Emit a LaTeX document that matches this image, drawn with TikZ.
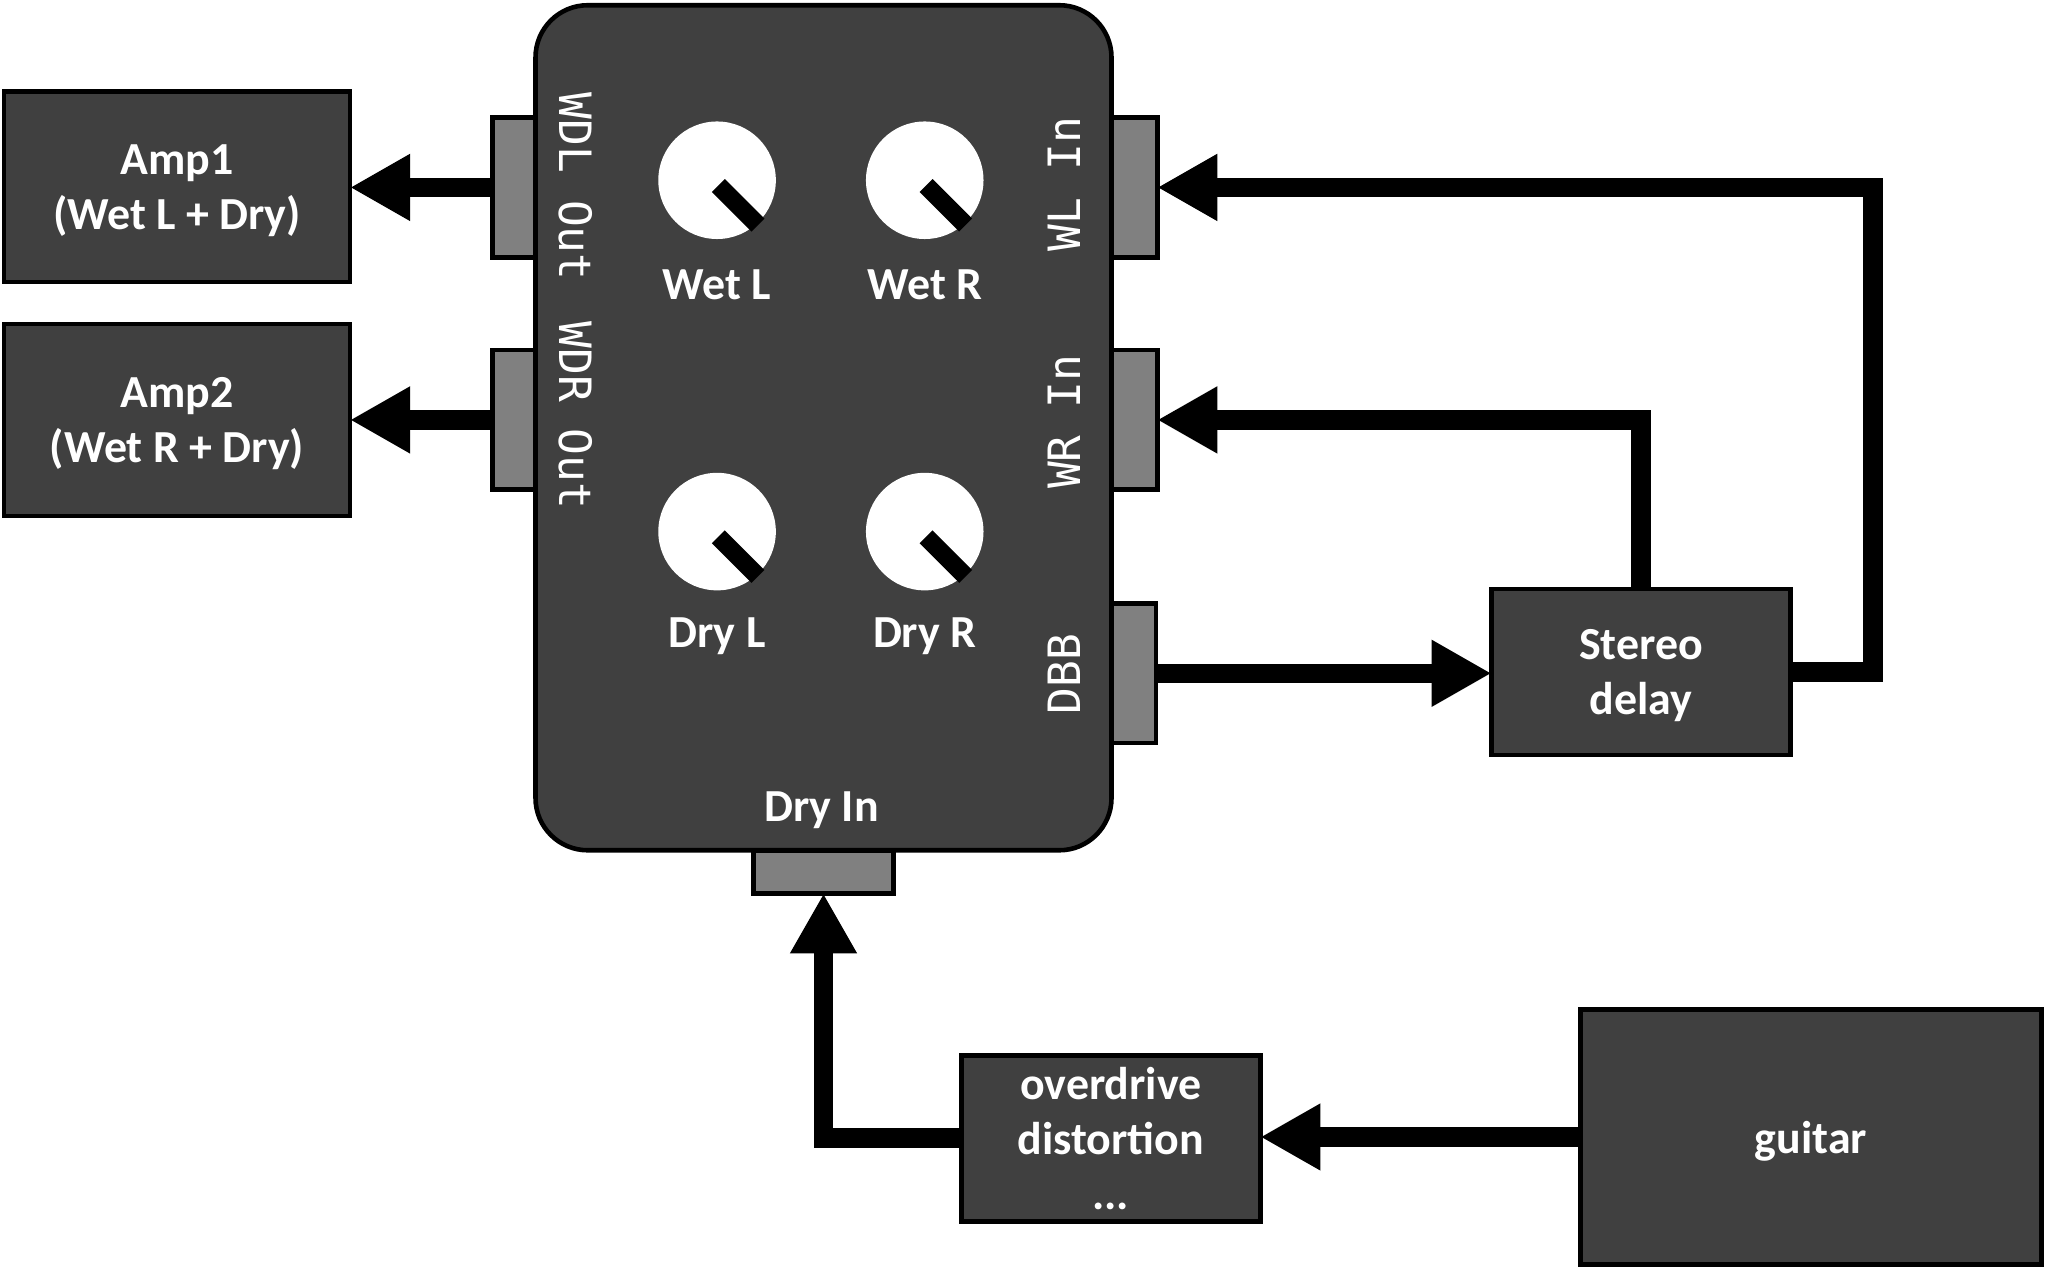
\documentclass[tikz,border=0pt]{standalone}
\usepackage{fontspec}
\setmainfont{Carlito}
\newfontfamily\jackfont{DejaVu Sans Mono}
\usepackage{xcolor}
\usetikzlibrary{arrows.meta}
\definecolor{boxgray}{HTML}{404040}
\definecolor{jackgray}{HTML}{808080}

\begin{document}
\begin{tikzpicture}[x=0.1mm,y=-0.1mm,
  box/.style={draw=black,line width=1pt,fill=boxgray,text=white,font=\bfseries,align=center,text depth=0pt,inner sep=0pt,outer sep=0pt},
  jack/.style={draw=black,line width=1pt,fill=jackgray,inner sep=0pt,outer sep=0pt},
  knob/.style={circle,fill=white,minimum size=9mm,inner sep=0pt},
  knobptr/.style={line width=1.4mm},
  knoblabel/.style={text=white,font=\bfseries,yshift=-0.3mm},
  jacklabel/.style={text=white,font=\jackfont\fontsize{9.7}{11}\selectfont},
  wire/.style={line width=1.5mm,-{Triangle[length=4.6mm,width=4.8mm]}}]
\useasboundingbox (0,0) rectangle (1568,972);

% pedal body and jacks
\node [box,rounded corners=4mm,minimum width=44.1mm,minimum height=64.7mm] (pedal) at (630.5,327.5) {};
\node [jack,minimum width=3.3mm,minimum height=10.7mm] (wdl) at (393.5,143.5) {};
\node [jack,minimum width=3.3mm,minimum height=10.7mm] (wdr) at (393.5,321.5) {};
\node [jack,minimum width=3.5mm,minimum height=10.7mm] (wl) at (868.5,143.5) {};
\node [jack,minimum width=3.5mm,minimum height=10.7mm] (wr) at (868.5,321.5) {};
\node [jack,minimum width=3.4mm,minimum height=10.7mm] (dbb) at (868,515.5) {};
\node [jack,minimum width=10.7mm,minimum height=3.3mm] (dryin) at (630.5,667.5) {};

\node [jacklabel,rotate=-90] (wdl-lbl) at (441,143) {WDL Out};
\node [jacklabel,rotate=-90] (wdr-lbl) at (441,318) {WDR Out};
\node [jacklabel,rotate=90] (wl-lbl) at (815,141) {WL In};
\node [jacklabel,rotate=90] (wr-lbl) at (815,323) {WR In};
\node [jacklabel,rotate=90] (dbb-lbl) at (815,516) {DBB};
\node [knoblabel] (dryin-lbl) at (629,617) {Dry In};

% knobs
\foreach \n/\x/\y/\t in {wetl/549/138/Wet L,wetr/708/138/Wet R,dryl/549/407/Dry L,dryr/708/407/Dry R}{
  \node [knob] (\n) at (\x,\y) {};
  \draw [knobptr] ([shift={(1,4)}]\n.center) -- ([shift={(-1,2)}]\n.-45);
  \node [knoblabel] (\n-lbl) at (\x,\y+77) {\t};
}

% other boxes
\node [box,minimum width=26.5mm,minimum height=14.6mm] (amp1) at (135.5,143) {Amp1\\(Wet L + Dry)};
\node [box,minimum width=26.5mm,minimum height=14.7mm] (amp2) at (135.5,321.5) {Amp2\\(Wet R + Dry)};
\node [box,minimum width=22.9mm,minimum height=12.7mm] (delay) at (1256.5,514.5) {Stereo\\delay};
\node [box,minimum width=22.9mm,minimum height=12.7mm] (od) at (850.5,871.5) {overdrive\\distortion\\...};
\node [box,minimum width=35.3mm,minimum height=19.5mm] (guitar) at (1386.5,870.5) {guitar};

% cables
\draw [wire] (wdl.west) -- (wdl.west -| amp1.east);
\draw [wire] (wdr.west) -- (wdr.west -| amp2.east);
\draw [wire] (dbb.east) -- (dbb.east -| delay.west);
\draw [wire] (delay.east) -- ++(63,0) |- (wl.east);
\draw [wire] (delay.north) |- (wr.east);
\draw [wire] (od.west) -| (dryin.south);
\draw [wire] (guitar.west) -- (guitar.west -| od.east);
\end{tikzpicture}
\end{document}
